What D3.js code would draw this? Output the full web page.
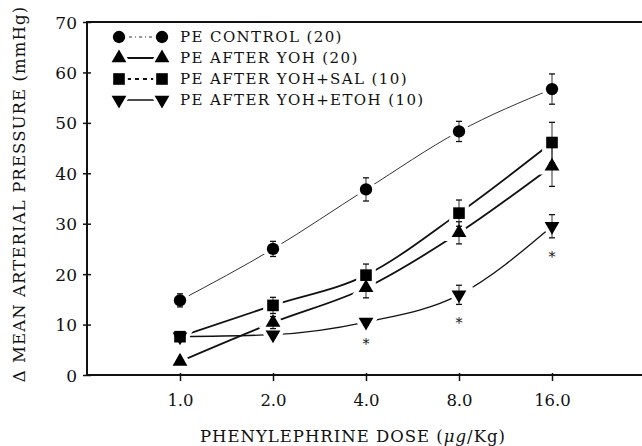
<!DOCTYPE html>
<html><head><meta charset="utf-8">
<script src="https://cdn.jsdelivr.net/npm/d3@7"></script>
<style>body{margin:0;background:#fff}svg{display:block}text{font-family:"DejaVu Serif",serif;fill:#111}</style>
</head><body><svg id="c" width="642" height="446"></svg>
<script>
const doses = [1, 2, 4, 8, 16];
const xTickLabels = ["1.0", "2.0", "4.0", "8.0", "16.0"];
const yTicks = [0, 10, 20, 30, 40, 50, 60, 70];
const seriesNames = ["PE CONTROL (20)", "PE AFTER YOH (20)", "PE AFTER YOH+SAL (10)", "PE AFTER YOH+ETOH (10)"];
const controlMean = [14.8, 25.0, 36.8, 48.3, 56.7];
const controlSem  = [1.3, 1.5, 2.3, 2.0, 3.0];
const yohMean = [2.7, 10.4, 17.3, 28.2, 41.4];
const yohSem  = [0.4, 1.2, 2.0, 2.2, 4.0];
const salMean = [7.6, 13.8, 19.8, 32.1, 46.1];
const salSem  = [0.6, 1.6, 2.2, 2.6, 4.0];
const etohMean = [7.6, 8.0, 10.5, 15.9, 29.5];
const etohSem  = [0.5, 0.6, 0.6, 1.9, 2.3];
const etohSignif = [false, false, true, true, true];

const svg = d3.select("#c");
const x = d3.scaleLog().base(2).domain([0.5, 32]).range([87, 645]);
const y = d3.scaleLinear().domain([0, 70]).range([375, 22]);

const series = [
  {name: seriesNames[0], mean: controlMean, sem: controlSem, shape: d3.symbolCircle, w: 1, dash: "3,3,1,3", color: "#333"},
  {name: seriesNames[1], mean: yohMean, sem: yohSem, shape: d3.symbolTriangle, w: 1.8, dash: null, color: "#111"},
  {name: seriesNames[2], mean: salMean, sem: salSem, shape: d3.symbolSquare, w: 1.8, dash: "4,4", color: "#111"},
  {name: seriesNames[3], mean: etohMean, sem: etohSem, shape: d3.symbolTriangle, w: 1.3, dash: null, color: "#111", down: true}
];
const sym = (s) => d3.symbol().type(s.shape).size(s.shape === d3.symbolCircle ? 120 : s.shape === d3.symbolSquare ? 135 : 95)();
const tf = (s, cx, cy) => `translate(${cx},${cy})` + (s.down ? " rotate(180)" : "");

// axes
const gy = svg.append("g").attr("transform", "translate(87,0)")
  .call(d3.axisLeft(y).tickValues(yTicks).tickSize(4).tickPadding(6).tickFormat(d3.format("d")));
gy.select(".domain").remove();
gy.selectAll(".tick line").attr("x2", 4).attr("x1", -4).attr("stroke", "#111").attr("stroke-width", 1.5);
gy.selectAll("text").style("font-size", "17px").attr("dy", "0.36em");

const gx = svg.append("g").attr("transform", "translate(0,375)")
  .call(d3.axisBottom(x).tickValues(doses).tickSize(6).tickPadding(13).tickFormat((d, i) => xTickLabels[i]));
gx.select(".domain").remove();
gx.selectAll(".tick line").attr("y1", -2).attr("stroke", "#111").attr("stroke-width", 1.5);
gx.selectAll("text").style("font-size", "16.5px");

svg.append("line").attr("x1", 87).attr("x2", 642).attr("y1", 22).attr("y2", 22).attr("stroke", "#111").attr("stroke-width", 2);
svg.append("line").attr("x1", 87).attr("x2", 87).attr("y1", 21).attr("y2", 376).attr("stroke", "#111").attr("stroke-width", 2);
svg.append("line").attr("x1", 86).attr("x2", 642).attr("y1", 375).attr("y2", 375).attr("stroke", "#111").attr("stroke-width", 2);

// lines
const line = d3.line().x((d, i) => x(doses[i])).y(d => y(d)).curve(d3.curveMonotoneX);
series.forEach(s => {
  svg.append("path").attr("d", line(s.mean)).attr("fill", "none").attr("stroke", s.color).attr("stroke-width", s.w);
});
// halos
series.forEach(s => {
  s.mean.forEach((v, i) => {
    svg.append("path").attr("d", sym(s)).attr("transform", tf(s, x(doses[i]), y(v)))
      .attr("fill", "#fff").attr("stroke", "#fff").attr("stroke-width", 8);
  });
});
// error bars
series.forEach(s => {
  s.mean.forEach((v, i) => {
    const cx = x(doses[i]), hi = y(v + s.sem[i]), lo = y(v - s.sem[i]);
    svg.append("line").attr("x1", cx).attr("x2", cx).attr("y1", hi).attr("y2", lo).attr("stroke", "#333").attr("stroke-width", 1);
    [hi, lo].forEach(yy => svg.append("line").attr("x1", cx - 3).attr("x2", cx + 3).attr("y1", yy).attr("y2", yy).attr("stroke", "#111").attr("stroke-width", 1.3));
  });
});
// markers
series.forEach(s => {
  s.mean.forEach((v, i) => {
    svg.append("path").attr("d", sym(s)).attr("transform", tf(s, x(doses[i]), y(v))).attr("fill", "#000");
  });
});
// significance asterisks
etohMean.forEach((v, i) => {
  if (!etohSignif[i]) return;
  svg.append("text").attr("x", x(doses[i])).attr("y", y(v - etohSem[i]) + 24).attr("text-anchor", "middle")
    .style("font-size", "14px").text("*");
});

// legend
const lg = svg.append("g");
series.forEach((s, k) => {
  const yy = 37 + k * 21;
  lg.append("line").attr("x1", 119).attr("x2", 162).attr("y1", yy).attr("y2", yy)
    .attr("stroke", s.color).attr("stroke-width", s.w).attr("stroke-dasharray", s.dash);
  [119, 162].forEach(cx => {
    lg.append("path").attr("d", sym(s)).attr("transform", tf(s, cx, yy)).attr("fill", "#fff").attr("stroke", "#fff").attr("stroke-width", 6);
    lg.append("path").attr("d", sym(s)).attr("transform", tf(s, cx, yy)).attr("fill", "#000");
  });
  lg.append("text").attr("x", 180).attr("y", yy).attr("dy", "0.35em")
    .style("font-size", "15px").style("letter-spacing", "1.4px").text(s.name);
});

// axis titles
svg.append("text").attr("transform", "translate(25,194) rotate(-90)").attr("text-anchor", "middle")
  .style("font-size", "16.5px").style("letter-spacing", "1.1px").text("Δ MEAN ARTERIAL PRESSURE (mmHg)");
const xt = svg.append("text").attr("x", 353).attr("y", 442).attr("text-anchor", "middle")
  .style("font-size", "16.5px").style("letter-spacing", "1px");
xt.append("tspan").text("PHENYLEPHRINE DOSE (");
xt.append("tspan").style("font-style", "italic").text("μg");
xt.append("tspan").text("/Kg)");
</script></body></html>
